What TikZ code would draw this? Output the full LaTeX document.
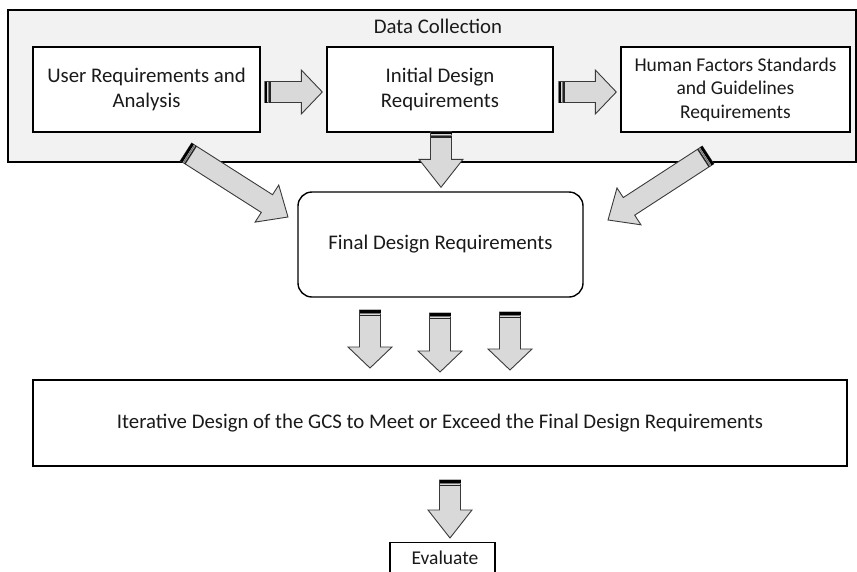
\documentclass[tikz,border=0pt]{standalone}
\usepackage{fontspec}
\setmainfont{Carlito}
\usetikzlibrary{calc}
\definecolor{boxbg}{HTML}{F2F2F2}
\definecolor{arrfill}{HTML}{D9D9D9}
\definecolor{arrline}{HTML}{3A3A3A}
\definecolor{txt}{HTML}{1A1A1A}
\tikzset{
  box/.style={draw=black, line width=1.4pt, fill=white, align=center, text=txt, inner sep=2pt},
  big/.style={font=\fontsize{20.8}{25}\selectfont},
  small/.style={font=\fontsize{19.5}{23.5}\selectfont},
  pics/barrow/.style 2 args={code={
    \def\sw{10.5}\def\hw{22}
    \filldraw[fill=arrfill, draw=arrline, line width=0.9pt, line join=miter]
      (0,-\sw) -- (#1-#2,-\sw) -- (#1-#2,-\hw) -- (#1,0) -- (#1-#2,\hw) -- (#1-#2,\sw) -- (0,\sw) -- cycle;
    \draw[black, line width=2.6pt] (1.3,-\sw) -- (1.3,\sw);
    \draw[arrline!70, line width=1.2pt] (3.6,-\sw) -- (3.6,\sw);
    \draw[black!85, line width=1.4pt] (5.4,-\sw) -- (5.4,\sw);
  }}
}
\newcommand{\blockarrow}[3]{%
  \path let \p1=(#1), \p2=(#2), \n1={atan2(\y2-\y1,\x2-\x1)}, \n2={veclen(\x2-\x1,\y2-\y1)} in
    pic[rotate=\n1] at (\p1) {barrow={\n2}{#3}};
}
\begin{document}
\begin{tikzpicture}[x=1pt, y=-1pt]
\useasboundingbox (0,0) rectangle (857,571);
% outer data collection box
\node[draw=black, line width=1.2pt, fill=boxbg, minimum width=848, minimum height=152, inner sep=0pt] (dc) at (432,86) {};
\node[big, text=txt] (dct) at (438,26) {Data Collection};
% boxes
\node[box, big, minimum width=227, minimum height=85] (u) at (146.5,89.5) {User Requirements and\\Analysis};
\node[box, big, minimum width=226, minimum height=85] (i) at (440,89.5) {Initial Design\\Requirements};
\node[box, small, minimum width=229, minimum height=85] (h) at (735.5,89.5) {Human Factors Standards\\and Guidelines\\Requirements};
\node[box, big, rounded corners=14pt, minimum width=285, minimum height=105] (f) at (440.5,244.5) {Final Design Requirements};
\node[box, big, minimum width=814, minimum height=86] (it) at (440,423) {Iterative Design of the GCS to Meet or Exceed the Final Design Requirements};
\node[box, small, minimum width=105, minimum height=44, anchor=north] (ev) at (442.5,542) {};
\node[small, text=txt] (evt) at (445,558) {Evaluate};
% arrow end points
\coordinate (a1s) at ($(u.east)+(4,2.5)$);
\coordinate (a1e) at ($(i.west)+(-4,2.5)$);
\coordinate (a2s) at ($(i.east)+(5,2.5)$);
\coordinate (a2e) at ($(h.west)+(-4,2.5)$);
\coordinate (a3s) at ($(i.south)+(1,-1)$);
\coordinate (a3e) at ($(f.north)+(0.5,-4)$);
\coordinate (a4s) at (186,152);
\coordinate (a4e) at (288,217);
\coordinate (a5s) at (708,155);
\coordinate (a5e) at (608,220);
\coordinate (b1s) at (370,310);
\coordinate (b1e) at (370,368);
\coordinate (b2s) at (440,313);
\coordinate (b2e) at (440,372);
\coordinate (b3s) at (510,312);
\coordinate (b3e) at (510,370);
\coordinate (c1s) at ($(ev.north)+(7.5,-62)$);
\coordinate (c1e) at ($(ev.north)+(7.5,-4)$);
% block arrows
\blockarrow{a1s}{a1e}{21}
\blockarrow{a2s}{a2e}{21}
\blockarrow{a3s}{a3e}{28}
\blockarrow{a4s}{a4e}{25}
\blockarrow{a5s}{a5e}{25}
\blockarrow{b1s}{b1e}{21}
\blockarrow{b2s}{b2e}{21}
\blockarrow{b3s}{b3e}{21}
\blockarrow{c1s}{c1e}{28}
\end{tikzpicture}
\end{document}
